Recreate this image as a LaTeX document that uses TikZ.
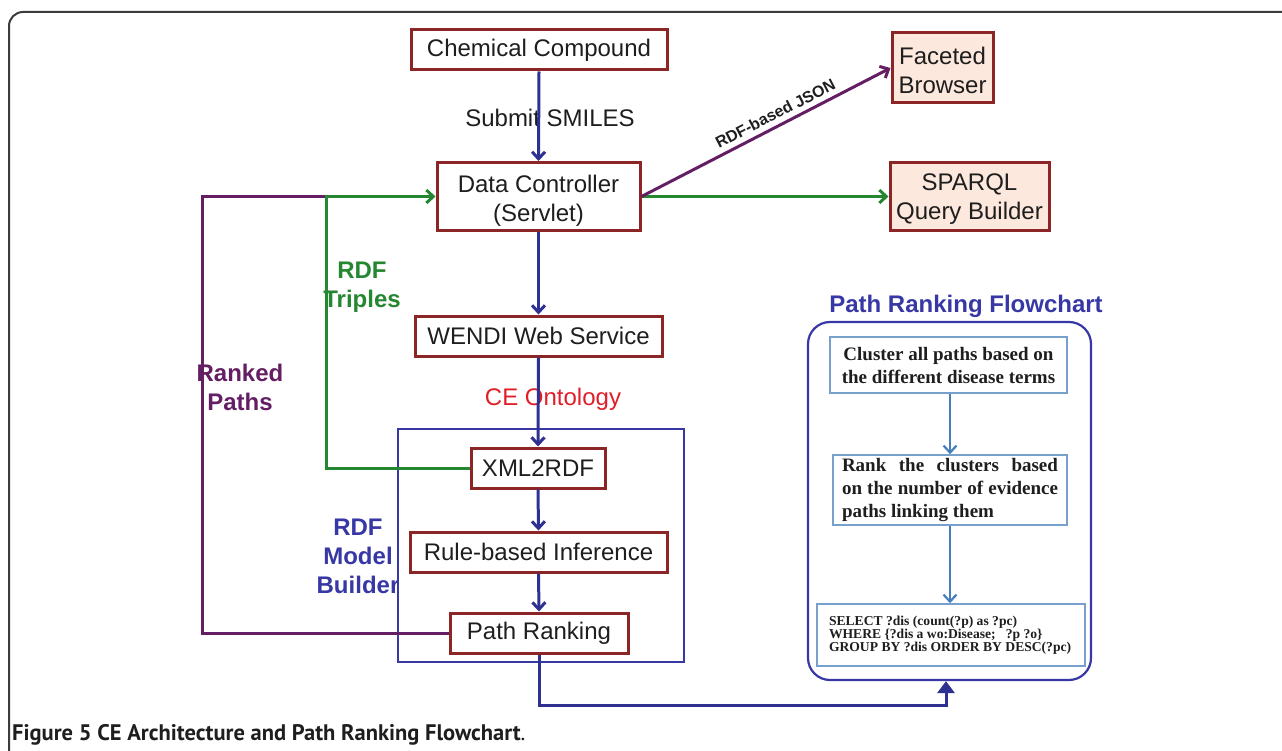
\documentclass[tikz,border=0pt]{standalone}
\usepackage{fontspec}
\setmainfont{Liberation Sans}
\newfontfamily\tnr{Liberation Serif}
\newfontfamily\capfont{PT Sans}
\usetikzlibrary{arrows.meta,calc}
\definecolor{boxred}{RGB}{140,38,38}
\definecolor{peachfill}{RGB}{252,232,220}
\definecolor{arrblue}{RGB}{46,49,146}
\definecolor{rgreen}{RGB}{38,135,50}
\definecolor{rpurple}{RGB}{100,30,100}
\definecolor{cered}{RGB}{225,30,40}
\definecolor{fcblue}{RGB}{55,55,165}
\definecolor{lbord}{RGB}{120,160,205}
\definecolor{larr}{RGB}{70,125,190}
\definecolor{txt}{RGB}{30,30,30}
\definecolor{framegray}{RGB}{60,60,60}
\tikzset{
  redbox/.style={draw=boxred, line width=3pt, fill=white, inner sep=0pt, text=txt,
    font=\fontsize{24}{29}\selectfont, align=center},
  peachbox/.style={redbox, fill=peachfill},
  flowbox/.style={draw=lbord, line width=1.6pt, fill=white, inner sep=0pt, text=txt},
  barb/.style={-{Straight Barb[length=7pt,width=13pt]}},
  bluearr/.style={draw=arrblue, line width=3pt, barb},
  greenarr/.style={draw=rgreen, line width=3pt},
  purplearr/.style={draw=rpurple, line width=3pt},
  lightarr/.style={draw=larr, line width=2.2pt, barb},
  lbl/.style={font=\fontsize{24}{29}\selectfont\bfseries, align=center},
}
\begin{document}
\begin{tikzpicture}[x=1pt,y=-1pt]
\useasboundingbox (0,0) rectangle (1282,751);
% outer frame
\draw[framegray, line width=2pt, rounded corners=14pt] (9,770) -- (9,12) -- (1300,12);

% labels drawn below lines
\node[font=\fontsize{24}{29}\selectfont, text=cered] (ceo) at (553,399) {CE Ontology};
\node[lbl, text=rgreen] (rdft) at (362,287) {RDF\\Triples};
\node[lbl, text=rpurple] (rankp) at (240,387) {Ranked\\Paths};

% RDF model builder frame
\draw[fcblue, line width=1.4pt] (398,429) rectangle (684,662);
\node[lbl, text=fcblue] (rdfmb) at (358,556) {RDF\\Model\\Builder};

% boxes
\node[redbox, minimum width=256pt, minimum height=40pt] (cc) at (539,50) {Chemical Compound};
\node[peachbox, minimum width=101pt, minimum height=70pt] (fb) at (942.5,68) {\raisebox{-2pt}[\height][\depth]{\parbox{90pt}{\centering Faceted\\Browser}}};
\node[redbox, minimum width=203pt, minimum height=68pt] (dc) at (538.5,196.5) {\raisebox{-4pt}[\height][\depth]{\parbox{195pt}{\centering Data Controller\\(Servlet)}}};
\node[peachbox, minimum width=159pt, minimum height=68pt] (sq) at (969.5,196.5) {\raisebox{-3pt}[\height][\depth]{\parbox{155pt}{\centering SPARQL\\Query Builder}}};
\node[redbox, minimum width=247pt, minimum height=40pt] (wendi) at (538.5,336) {WENDI Web Service};
\node[redbox, minimum width=134pt, minimum height=40pt] (xml) at (538,468) {XML2RDF};
\node[redbox, minimum width=257pt, minimum height=40pt] (rule) at (538.5,552) {Rule-based Inference};
\node[redbox, minimum width=178pt, minimum height=40pt] (pr) at (539,633) {Path Ranking};

% Submit SMILES label
\node[font=\fontsize{24}{29}\selectfont, text=txt] (sub) at (550,118) {Submit SMILES};

% vertical blue arrows
\draw[bluearr] (cc.south) -- (dc.north);
\draw[bluearr] (dc.south) -- (wendi.north);
\draw[bluearr] (wendi.south) -- (xml.north);
\draw[bluearr] (xml.south) -- (rule.north);
\draw[bluearr] (rule.south) -- (pr.north);

% feedback lines
\coordinate (gc) at (326,196.5);
\coordinate (pc) at (202,196.5);
\draw[purplearr] (pr.west) -| (pc) -- (gc);
\draw[greenarr, barb] (xml.west) -| (gc) -- (dc.west);
\draw[greenarr, barb] (dc.east) -- (sq.west);
\draw[purplearr, barb] (dc.east) -- (fb.west)
  node[pos=0.56, sloped, above=5pt, font=\fontsize{16}{18}\selectfont\bfseries, text=txt, inner sep=0pt] (json) {RDF-based JSON};

% flowchart
\node[font=\fontsize{24}{29}\selectfont\bfseries, text=fcblue] (fct) at (966,306) {Path Ranking Flowchart};
\node[draw=fcblue, line width=2.2pt, rounded corners=22pt, minimum width=283pt, minimum height=358pt, inner sep=0pt] (fr) at (949.5,501) {};
\node[flowbox, minimum width=237pt, minimum height=56pt] (b1) at (948.5,365)
  {\parbox{218pt}{\centering\tnr\bfseries\fontsize{19}{23}\selectfont Cluster all paths based on\\the different disease terms}};
\node[flowbox, minimum width=234pt, minimum height=70pt] (b2) at (950,490)
  {\parbox{216pt}{\tnr\bfseries\fontsize{19}{23}\selectfont Rank the clusters based on the number of evidence paths linking them}};
\node[flowbox, minimum width=268pt, minimum height=62pt] (b3) at (951,635)
  {\parbox{244pt}{\raggedright\tnr\bfseries\fontsize{13.6}{12.8}\selectfont SELECT ?dis (count(?p) as ?pc)\\ WHERE \{?dis a wo:Disease;\ \ \ ?p ?o\}\\ GROUP BY ?dis ORDER BY DESC(?pc)}};
\draw[lightarr] (b1.south -| 950,0) -- (b2.north -| 950,0);
\draw[lightarr] (b2.south -| 950,0) -- (b3.north -| 950,0);

% bottom arrow
\coordinate (bc) at (946,705);
\draw[draw=arrblue, line width=3pt, -{Triangle[length=12pt,width=17pt]}] (pr.south) |- (bc) -- (bc |- fr.south);

% caption
\node[anchor=west, font=\capfont\fontsize{22.5}{26}\selectfont, text=txt, inner sep=0pt] (cap) at (12,735)
  {\textbf{Figure 5 CE Architecture and Path Ranking Flowchart}.};
\end{tikzpicture}
\end{document}
